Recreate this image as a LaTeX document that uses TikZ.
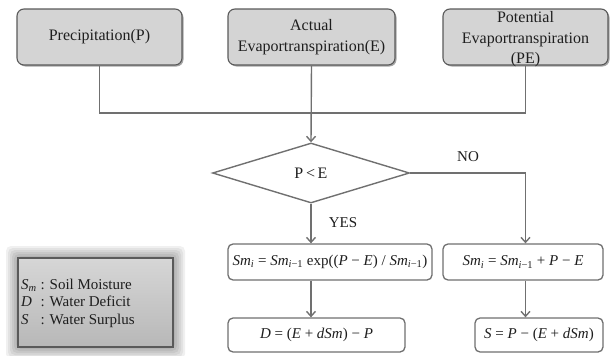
\documentclass[tikz,border=0pt]{standalone}
\usepackage{fontspec}
\setmainfont{Liberation Serif}
\usetikzlibrary{shapes.geometric,arrows.meta,shadows}
\definecolor{linegray}{HTML}{707070}
\definecolor{boxfill}{HTML}{D4D4D4}
\definecolor{boxdraw}{HTML}{5A5A5A}
\definecolor{txt}{HTML}{1E1E1E}
\newcommand\smi{\textit{Sm}\textsubscript{\textit{i}}}
\newcommand\smim{\textit{Sm}\textsubscript{\textit{i}−1}}
\tikzset{
  topbox/.style={draw=boxdraw, line width=1.1pt, fill=boxfill, rounded corners=7pt,
    drop shadow={shadow xshift=1.5pt, shadow yshift=-1.5pt, fill=black, opacity=0.35},
    inner sep=0pt, align=center, text=txt, font=\fontsize{16}{20.5}\selectfont},
  eqbox/.style={draw=linegray, line width=1.3pt, fill=white, rounded corners=5pt,
    inner sep=0pt, text=txt, font=\fontsize{15}{18}\selectfont},
  conn/.style={draw=linegray, line width=1.4pt},
  arr/.style={conn, -{Straight Barb[length=5pt,width=9pt,line width=1.4pt]}},
  lbl/.style={text=txt, font=\fontsize{15}{18}\selectfont, inner sep=0pt}
}
\begin{document}
\begin{tikzpicture}[x=1pt,y=-1pt]
\useasboundingbox (0,0) rectangle (616,356);
% top boxes
\node[topbox, minimum width=165pt, minimum height=56pt] (prec) at (99.5,37) {Precipitation(P)};
\node[topbox, minimum width=167pt, minimum height=56pt] (act) at (311.5,37) {Actual\\Evaportranspiration(E)};
\node[topbox, minimum width=165pt, minimum height=56pt] (pot) at (525.5,37) {};
\node[text=txt, align=center, inner sep=0pt, font=\fontsize{16}{20.5}\selectfont] (pottxt) at (525.5,39.5) {Potential\\Evaportranspiration\\(PE)};
% decision
\node[draw=linegray, line width=1.4pt, diamond, aspect=3.3, minimum width=197pt, minimum height=60pt, inner sep=0pt, text=txt, font=\fontsize{16}{19}\selectfont] (dia) at (311,173) {P\,<\,E};
% equations
\node[eqbox, minimum width=204pt, minimum height=36pt] (sm1) at (330,262) {\smi\ = \smim\ exp((\textit{P} − \textit{E}) / \smim)};
\node[eqbox, minimum width=160pt, minimum height=36pt] (sm2) at (523,262) {\smi\ = \smim\ + \textit{P} − \textit{E}};
\node[eqbox, minimum width=177pt, minimum height=34pt] (dd) at (316.5,335) {\textit{D} = (\textit{E} + \textit{dSm}) − \textit{P}};
\node[eqbox, minimum width=128pt, minimum height=34pt] (ss) at (539,335) {\textit{S} = \textit{P} − (\textit{E} + \textit{dSm})};
% legend glow
\foreach \d in {12,10,8,6,4,2} {
  \fill[black, opacity=0.06, rounded corners=5pt] (18-\d,258-\d) rectangle (173+\d,347+\d);
}
\node[draw=boxdraw, line width=1.3pt, top color=white!84!black, bottom color=white!72!black,
  minimum width=155pt, minimum height=89pt, inner sep=0pt] (leg) at (95.5,302.5) {};
\node[anchor=west, text=txt, inner sep=0pt, font=\fontsize{15}{17.5}\selectfont] (legtxt) at (21,303)
 {\begin{tabular}{@{}l@{\ }l@{}}
  \textit{S}\textsubscript{\textit{m}} & : Soil Moisture\\
  \textit{D} & : Water Deficit\\
  \textit{S} & : Water Surplus
 \end{tabular}};
% connectors
\coordinate (jl) at (prec.south |- 0,113);
\coordinate (jr) at (pot.south |- 0,113);
\draw[conn] (prec.south) -- (jl) -- (jr) -- (pot.south);
\draw[arr] (act.south) -- (dia.north);
\draw[arr] (dia.south) -- (dia.south |- sm1.north);
\draw[arr] (dia.east) -| (pot.south |- sm2.north);
\draw[arr] (dia.south |- sm1.south) -- (dia.south |- dd.north);
\draw[arr] (pot.south |- sm2.south) -- (pot.south |- ss.north);
% labels
\node[lbl] (yes) at (343,223) {YES};
\node[lbl] (no) at (468,157) {NO};
\end{tikzpicture}
\end{document}
